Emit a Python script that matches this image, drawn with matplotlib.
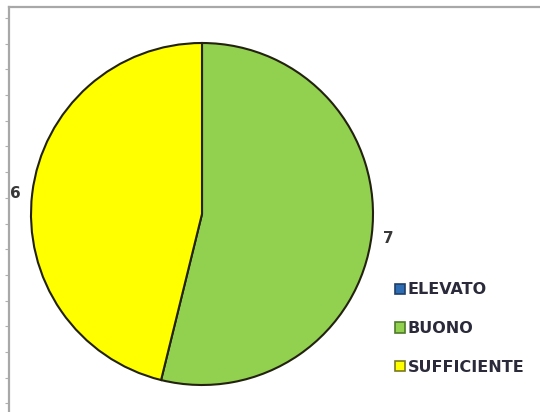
import numpy as np
import matplotlib.pyplot as plt
from matplotlib.patches import Patch

categories = ["ELEVATO", "BUONO", "SUFFICIENTE"]
values = [0, 7, 6]
colors = ["#2E6DB4", "#92D050", "#FFFF00"]
edge_colors = ["#1F3F66", "#4E7A2A", "#7A7A20"]

W, H = 540, 412
fig = plt.figure(figsize=(W / 100, H / 100), dpi=100)

# frame with small ticks along the left edge
bg = fig.add_axes([9 / W, 0, 1 - 9 / W, (H - 7) / H])
bg.set_xlim(0, 1)
bg.set_ylim(0, H - 7)
for side in ("right", "bottom"):
    bg.spines[side].set_visible(False)
for side in ("left", "top"):
    bg.spines[side].set_color("#A8A8A8")
    bg.spines[side].set_linewidth(1.6)
bg.set_xticks([])
bg.set_yticks(np.arange(H - 7 - 11, 0, -25.7))
bg.tick_params(axis="y", direction="out", length=3, color="#B0B0B0", labelleft=False)
bg.patch.set_alpha(0)

# pie
r_px = 171
cx, cy = 202, 214
ax = fig.add_axes([(cx - r_px) / W, (H - cy - r_px) / H, 2 * r_px / W, 2 * r_px / H])
wedges, _ = ax.pie(
    values,
    colors=colors,
    startangle=90,
    counterclock=False,
    radius=1,
    wedgeprops=dict(linewidth=1.5, edgecolor="#22220F"),
)
ax.set_xlim(-1, 1)
ax.set_ylim(-1, 1)
ax.set_aspect("equal")

# value labels outside each non-empty slice
total = sum(values)
angle = 90.0
for v in values:
    span = 360.0 * v / total
    mid = np.deg2rad(angle - span / 2)
    angle -= span
    if v == 0:
        continue
    ax.text(1.1 * np.cos(mid), 1.1 * np.sin(mid) - 0.01, str(v),
            ha="center", va="center", fontsize=11, fontweight="bold",
            color="#383838", clip_on=False)

handles = [Patch(facecolor=c, edgecolor=e, linewidth=1.2) for c, e in zip(colors, edge_colors)]
leg = fig.legend(handles, categories, loc="upper left", bbox_to_anchor=(389 / W, 1 - 276 / H),
                 frameon=False, handlelength=0.62, handleheight=0.62, handletextpad=0.15,
                 labelspacing=1.48, borderaxespad=0,
                 prop=dict(family="DejaVu Sans", weight="bold", size=11.5))
for t in leg.get_texts():
    t.set_color("#2A2A3A")

fig.savefig("out.png", dpi=100)
